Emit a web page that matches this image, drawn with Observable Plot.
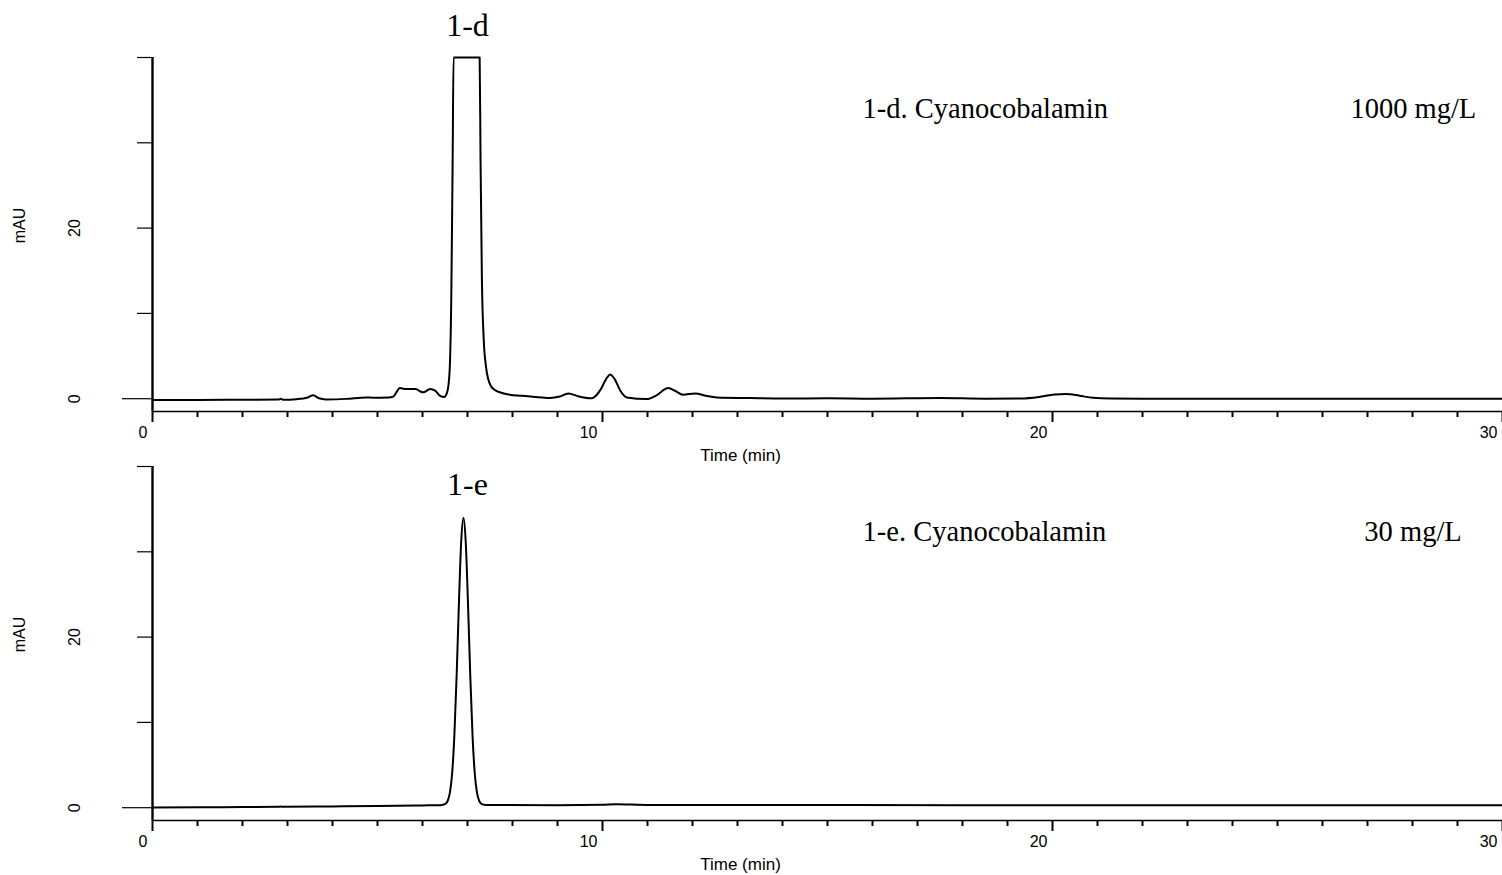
<!DOCTYPE html>
<html><head><meta charset="utf-8">
<script src="https://cdn.jsdelivr.net/npm/d3@7"></script>
<script src="https://cdn.jsdelivr.net/npm/@observablehq/plot@0.6"></script>
<style>
html,body{margin:0;padding:0;background:#fff;}
#chart{width:1502px;}
#chart svg{display:block;}
#chart svg [aria-label="x-axis tick"]{stroke-width:2px;}
#chart svg [aria-label="x-axis tick"] path{stroke-width:2px;}
</style></head><body><div id="chart"></div>
<script>
// Chromatogram 1-d (1000 mg/L), time in min, absorbance in mAU (clipped at 40)
const timesD = [0,1,2,2.8,2.85,2.9,3.2,3.45,3.57,3.7,3.85,4.3,4.75,4.9,5.25,5.35,5.5,5.6,5.85,5.95,6.02,6.17,6.28,6.4,6.48,6.55,6.6,6.64,6.67,6.69,7.27,7.29,7.32,7.36,7.41,7.46,7.52,7.6,7.75,7.94,8.2,8.46,8.83,9.05,9.24,9.45,9.76,9.95,10.08,10.17,10.27,10.4,10.54,10.98,11.2,11.46,11.62,11.79,12.06,12.3,12.54,13.28,14,15,16,17.5,18.5,19.3,19.7,20.05,20.3,20.6,20.9,21.3,22,24,26,28,30];
const valuesD = [-0.15,-0.15,-0.12,-0.1,0.0,-0.12,-0.05,0.15,0.4,0.05,-0.08,-0.02,0.15,0.12,0.15,0.25,1.25,1.15,1.15,0.85,0.75,1.15,0.95,0.3,0.2,0.8,3,12,28,40,40,28,14,7,3.8,2.3,1.5,1.05,0.7,0.47,0.35,0.23,0.08,0.25,0.62,0.3,0.04,1.0,2.3,2.85,2.3,0.9,0.15,-0.04,0.4,1.25,0.9,0.47,0.62,0.35,0.15,0.08,0.02,0.05,0.0,0.08,0.0,0.02,0.2,0.5,0.55,0.35,0.1,0.02,0,0,0,0,-0.02];

// Chromatogram 1-e (30 mg/L)
const timesE = [0,1,2,2.8,2.85,2.9,4,5,6,6.4,6.51,6.56,6.61,6.66,6.71,6.76,6.81,6.86,6.91,6.96,7.01,7.06,7.11,7.16,7.21,7.26,7.31,7.4,7.7,9,10,10.3,11,14,18,22,26,30];
const valuesE = [0.03,0.05,0.08,0.1,0.14,0.1,0.15,0.2,0.27,0.3,0.45,0.8,1.8,4.1,8.7,15.7,24.1,31.2,34.0,31.2,24.1,15.7,8.7,4.1,1.8,0.8,0.45,0.33,0.32,0.3,0.35,0.4,0.33,0.32,0.3,0.3,0.28,0.28];

const majorTicks = [0,10,20,30];
const minorTicks = [1,2,3,4,5,6,7,8,9,11,12,13,14,15,16,17,18,19,21,22,23,24,25,26,27,28,29];
const yTicks = [10,20,30,40];
const yLabelTicks = [0,20];
const peakLabels = ["1-d","1-e"];
const sampleNames = ["1-d. Cyanocobalamin","1-e. Cyanocobalamin"];
const concentrations = ["1000 mg/L","30 mg/L"];
const xTitle = "Time (min)";
const yTitle = "mAU";
const yDomain = [-1.5, 40];

const sans = "'Liberation Sans', Arial, sans-serif";
const serif = "'Liberation Serif', 'Times New Roman', serif";

function panel(i, times, values, o) {
  const data = times.map((t, k) => ({t, v: values[k]}));
  return Plot.plot({
    width: 1502, height: o.height,
    marginLeft: 152, marginRight: 0, marginTop: o.mt, marginBottom: o.mb,
    style: {background: "white", color: "black", fontFamily: sans, overflow: "visible"},
    x: {domain: [0, 30]},
    y: {domain: yDomain, clamp: true},
    marks: [
      Plot.ruleY([yDomain[0]], {strokeWidth: 1.3}),
      Plot.axisX({ticks: minorTicks, tickSize: 6, strokeWidth: 2, tickFormat: () => "", label: null}),
      Plot.axisX({ticks: majorTicks, tickSize: 11, strokeWidth: 2, tickFormat: () => "", label: null}),
      Plot.text(majorTicks, {x: d => d, text: d => String(d), frameAnchor: "bottom", dy: 21.5, dx: -5,
        textAnchor: "end", lineAnchor: "middle", fontSize: 16, fontFamily: sans}),
      Plot.axisY({ticks: yTicks, tickSize: 15, strokeWidth: 1.2, tickFormat: () => "", label: null}),
      Plot.axisY({ticks: [0], tickSize: 30, strokeWidth: 1.2, tickFormat: () => "", label: null}),
      Plot.text(yLabelTicks, {y: d => d, text: d => String(d), frameAnchor: "left", dx: -78, rotate: -90,
        textAnchor: "middle", lineAnchor: "middle", fontSize: 16, fontFamily: sans}),
      Plot.text([yTitle], {text: d => d, frameAnchor: "left", dx: -133, dy: -9, rotate: -90,
        textAnchor: "middle", lineAnchor: "middle", fontSize: 16, fontFamily: sans}),
      Plot.text([xTitle], {text: d => d, frameAnchor: "bottom", dx: -87, dy: 44,
        textAnchor: "middle", lineAnchor: "middle", fontSize: 17, fontFamily: sans}),
      Plot.ruleX([0], {strokeWidth: 2.4}),
      Plot.line(data, {x: "t", y: "v", strokeWidth: 2, curve: "monotone-x"}),
      Plot.text([peakLabels[i]], {text: d => d, x: 7.0, frameAnchor: "top", dy: o.peakDy,
        textAnchor: "middle", lineAnchor: "bottom", fontSize: 32, fontFamily: serif}),
      Plot.text([sampleNames[i]], {text: d => d, x: 15.78, frameAnchor: "top", dy: o.textDy,
        textAnchor: "start", lineAnchor: "bottom", fontSize: 28.5, fontFamily: serif}),
      Plot.text([concentrations[i]], {text: d => d, x: o.concX, frameAnchor: "top", dy: o.textDy,
        textAnchor: "start", lineAnchor: "bottom", fontSize: 28.5, fontFamily: serif})
    ]
  });
}

const chart = document.getElementById("chart");
chart.append(panel(0, timesD, valuesD, {height: 460, mt: 57, mb: 49, peakDy: -22, textDy: 60, concX: 26.62}));
chart.append(panel(1, timesE, valuesE, {height: 415, mt: 6, mb: 55, peakDy: 28, textDy: 74, concX: 26.93}));
</script></body></html>
